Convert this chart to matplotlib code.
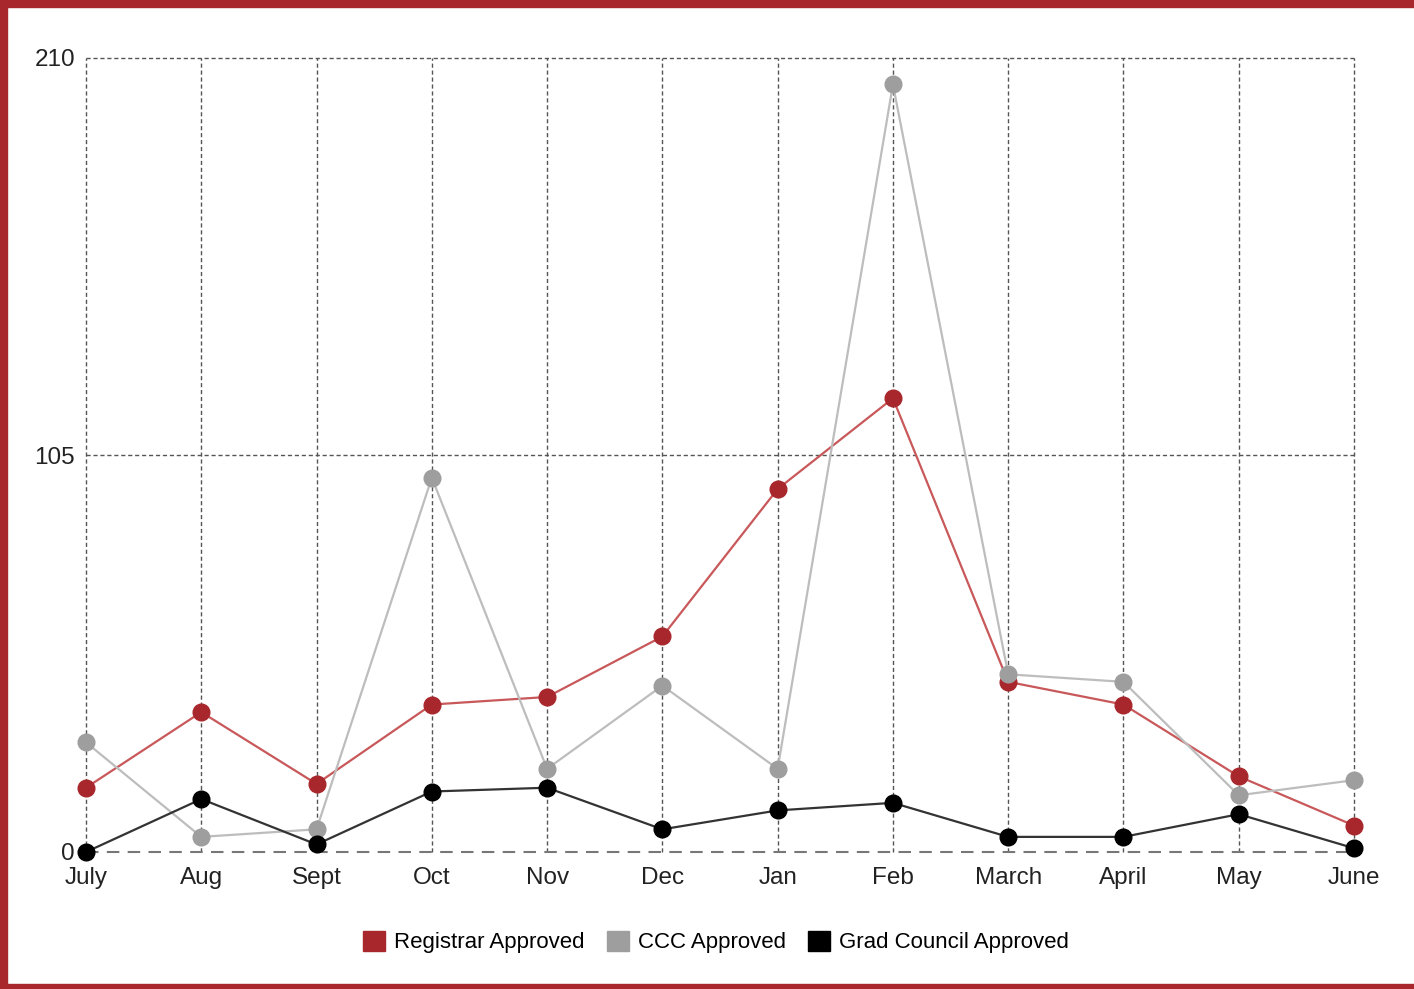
import matplotlib
matplotlib.use("Agg")
import matplotlib.pyplot as plt
from matplotlib.patches import Patch, Rectangle

months = ["July", "Aug", "Sept", "Oct", "Nov", "Dec", "Jan", "Feb", "March", "April", "May", "June"]
registrar = [17, 37, 18, 39, 41, 57, 96, 120, 45, 39, 20, 7]
ccc = [29, 4, 6, 99, 22, 44, 22, 203, 47, 45, 15, 19]
grad = [0, 14, 2, 16, 17, 6, 11, 13, 4, 4, 10, 1]
yticks = [0, 105, 210]

series = [
    ("Registrar Approved", registrar, "#a8272c", "#c8585a"),
    ("CCC Approved", ccc, "#9e9e9e", "#bdbdbd"),
    ("Grad Council Approved", grad, "#000000", "#333333"),
]

plt.rcParams['font.family'] = ['Liberation Sans', 'DejaVu Sans']

fig = plt.figure(figsize=(14.14, 9.89), dpi=100)
ax = fig.add_axes([86/1414, 1 - 852/989, (1354-86)/1414, (852-58)/989])

x = list(range(len(months)))
for i, (name, vals, mc, lc) in enumerate(series):
    ax.plot(x, vals, color=lc, lw=1.6, zorder=3 + i)
    ax.plot(x, vals, ls="none", marker="o", ms=12, color=mc, zorder=6 + i, clip_on=False)

ax.set_xlim(0, len(months) - 1)
ax.set_ylim(0, 210)
ax.set_xticks(x)
ax.set_xticklabels(months, fontsize=17.5, color="#222222")
ax.set_yticks(yticks)
ax.set_yticklabels([str(t) for t in yticks], fontsize=17.5, color="#222222")
ax.tick_params(length=0)
ax.tick_params(axis="x", pad=11)
ax.tick_params(axis="y", pad=8)
for s in ax.spines.values():
    s.set_visible(False)

for xi in x:
    ax.axvline(xi, color="#555555", lw=1, ls=(0, (3, 2)), zorder=1, clip_on=False)
for yt in yticks[1:]:
    ax.axhline(yt, color="#555555", lw=1, ls=(0, (3, 2)), zorder=1, clip_on=False)
ax.axhline(0, color="#777777", lw=1.5, ls=(0, (6, 4)), zorder=1.5, clip_on=False)

handles = [Patch(facecolor=mc, edgecolor=mc, label=name) for name, _, mc, _ in series]
fig.legend(handles=handles, loc="center", bbox_to_anchor=(716/1414, 1 - 942/989), ncol=3,
           frameon=False, fontsize=16, handlelength=1.0, handleheight=1.0,
           handletextpad=0.4, columnspacing=1.0)

# red frame
red = "#a8272c"
fig.patches.append(Rectangle((0, 1 - 7/989), 1, 7/989, transform=fig.transFigure, color=red, zorder=0))
fig.patches.append(Rectangle((0, 0), 7/1414, 1, transform=fig.transFigure, color=red, zorder=0))
fig.patches.append(Rectangle((0, 0), 1, 5/989, transform=fig.transFigure, color=red, zorder=0))

fig.savefig("out.png", dpi=100)
